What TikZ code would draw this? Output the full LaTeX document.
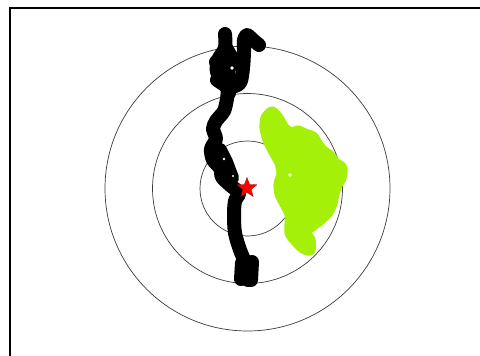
\documentclass[tikz,border=0pt]{standalone}
\usetikzlibrary{shapes.geometric}
\definecolor{trailgreen}{RGB}{164,240,8}
\definecolor{ringgray}{RGB}{60,60,60}
\begin{document}
\begin{tikzpicture}[x=1pt,y=-1pt,
  ring/.style={draw=ringgray,line width=0.7pt},
  blacktrail/.style={draw=black,line width=14pt,line cap=round,line join=round},
  greentrail/.style={draw=trailgreen,fill=trailgreen,line width=11pt,line cap=round,line join=round},
  frameline/.style={draw=black,line width=2pt},
  startstar/.style={star,star points=5,star point ratio=2.4,fill=red,draw=red!70!black,line width=0.3pt,minimum size=21pt,inner sep=0pt}]
\useasboundingbox (0,0) rectangle (480,356);
\fill[white] (0,0) rectangle (480,356);
% frame (left and top edges visible)
\draw[frameline] (10,360) -- (10,8) -- (484,8);
% rings
\coordinate (c) at (247.5,188.5);
\draw[ring] (c) circle[radius=47.5];
\draw[ring] (c) circle[radius=95];
\draw[ring] (c) circle[radius=142.5];
% green trail
\draw[greentrail] plot[smooth cycle,tension=0.4] coordinates {
 (272,112) (278,118) (284,128) (291,133) (298,131) (305,134) (313,137) (318,145)
 (323,151) (330,156) (335,163) (342,168) (341,178) (337,185) (334,194) (332,203)
 (328,212) (320,220) (312,226) (305,232) (310,240) (310,250) (303,248) (295,240)
 (290,233) (290,224) (290,214) (285,204) (280,194) (279,184) (282,174) (280,163)
 (274,152) (268,140) (265,128) (266,118)};
\fill[white] (290,175) circle[radius=1.8];
% black trail
\draw[blacktrail] plot[smooth,tension=0.5] coordinates {
 (248,280) (246,265) (240,250) (235,233) (234,215) (235,201) (239,193)
 (230,185) (222,177) (220,168) (213,160) (211,149) (216,139) (213,129)
 (216,121) (224,111) (227,99) (229,89) (240,83) (243,68) (244,52) (244,40)
 (247,35) (253,40) (259,45)};
\draw[blacktrail] plot[smooth,tension=0.5] coordinates {
 (229,93) (224,82) (217,72) (218,60) (225,48) (225,34)};
\draw[blacktrail] (216,62) -- (229,76) -- (223,70) -- (217,80) -- (226,86);
\draw[blacktrail] (226,48) -- (232,58) -- (228,72);
\draw[blacktrail] (220,150) -- (226,162) -- (232,178) -- (222,170);
\draw[blacktrail] (242,263) -- (241,279);
\draw[blacktrail] (252,262) -- (251,280);
\fill[white] (232,68) circle[radius=1.8];
\fill[white] (224,159) circle[radius=1.3];
\fill[white] (233,176) circle[radius=1.2];
% start marker
\node[startstar] (start) at (247,188) {};
\end{tikzpicture}
\end{document}
